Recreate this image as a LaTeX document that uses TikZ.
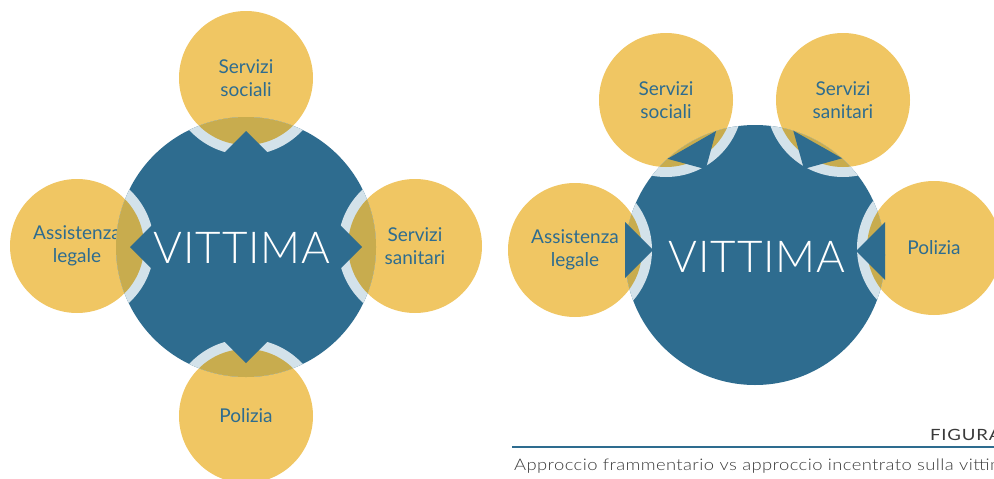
\documentclass[tikz,border=0pt]{standalone}
\usepackage{fontspec}
\setmainfont{Lato}
\newfontfamily\lightfont{Lato Light}[LetterSpace=2]
\newfontfamily\captionfont{Lato Light}[FakeStretch=1.15,LetterSpace=2.5]
\newfontfamily\figurefont{Lato}[FakeStretch=1.2,LetterSpace=5]
\definecolor{vblue}{HTML}{2E6C8F}
\definecolor{vyellow}{HTML}{F0C663}
\definecolor{volive}{HTML}{C8AC4E}
\definecolor{vband}{HTML}{D3E2EA}
\definecolor{vgray}{HTML}{3A3A3A}

\begin{document}
\begin{tikzpicture}[x=1pt,y=-1pt]
			\useasboundingbox (0,0) rectangle (994,479);
			% services (left: fragmented, right: centred on the victim)
			\begin{scope}[every node/.style={circle,fill=vyellow,minimum size=134pt,inner sep=0pt,text=vblue,align=center,font=\fontsize{19}{23}\selectfont}]
	    		\node (L1) at (246,78) {Servizi\\sociali};
	    		\node (L2) at (77,246) {Assistenza\\legale};
	    		\node (L3) at (415,246) {Servizi\\sanitari};
	    		\node (L4) at (246,416) {Polizia};
	    		\node (R1) at (666,100) {Servizi\\sociali};
	    		\node (R2) at (843,100) {Servizi\\sanitari};
	    		\node (R3) at (575,250) {Assistenza\\legale};
	    		\node (R4) at (934,248) {Polizia};
			\end{scope}
			\begin{scope}[every node/.style={circle,fill=vblue,minimum size=260pt,inner sep=0pt}]
	    		\node (VL) at (246,247) {};
	    		\node (VR) at (755,255) {};
			\end{scope}

			% overlaps inside the victim circles
			\begin{scope}
				\clip (VL.center) circle (130pt);
				\fill[vband] (L1.center) circle (77pt) (L2.center) circle (77pt) (L3.center) circle (77pt) (L4.center) circle (77pt);
				\fill[volive] (L1.center) circle (67pt) (L2.center) circle (67pt) (L3.center) circle (67pt) (L4.center) circle (67pt);
			\end{scope}
			\begin{scope}
				\clip (VR.center) circle (130pt);
				\fill[vband] (R1.center) circle (77pt) (R2.center) circle (77pt) (R3.center) circle (77pt) (R4.center) circle (77pt);
				\fill[volive] (R1.center) circle (67pt) (R2.center) circle (67pt) (R3.center) circle (67pt) (R4.center) circle (67pt);
			\end{scope}

			% arrow points
			\begin{scope}[every path/.style={fill=vblue}]
	    		\path (246,131) -- (216,161) -- (276,161) -- cycle;
	    		\path (246,363) -- (216,333) -- (276,333) -- cycle;
	    		\path (130,247) -- (160,217) -- (160,277) -- cycle;
	    		\path (362,247) -- (332,217) -- (332,277) -- cycle;
	    		\path (705.7,169.2) -- (667.5,158.8) -- (716.1,131.0) -- cycle;
	    		\path (803.9,168.9) -- (842.1,158.3) -- (793.3,130.7) -- cycle;
	    		\path (653,250) -- (625,222) -- (625,278) -- cycle;
	    		\path (856,251) -- (885,222) -- (885,280) -- cycle;
			\end{scope}

			\begin{scope}[every node/.style={text=white,font=\lightfont\fontsize{44}{44}\selectfont}]
	    		\node (TL) at (242,248) {VITTIMA};
	    		\node (TR) at (757,257) {VITTIMA};
			\end{scope}

			% caption
			\coordinate (C1) at (512,447);
			\coordinate (C2) at (994,447);
			\draw[vblue,line width=2pt] (C1) -- (C2);
	    	\node[anchor=base west,inner sep=0pt,text=vgray,font=\figurefont\fontsize{15.5}{15.5}\selectfont] (FG) at (930,440) {FIGURA};
	    	\node[anchor=base west,inner sep=0pt,text=vgray,font=\captionfont\fontsize{16}{16}\selectfont] (CP) at (514,470) {Approccio frammentario vs approccio incentrato sulla vittima};
		\end{tikzpicture}
\end{document}
